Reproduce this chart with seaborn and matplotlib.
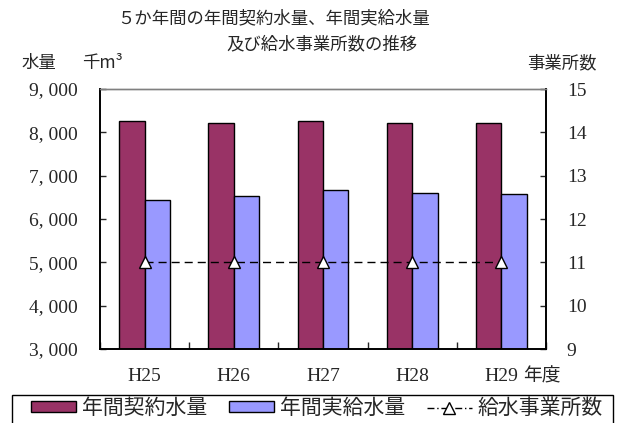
import matplotlib
matplotlib.use("Agg")
import matplotlib.pyplot as plt
import numpy as np
import pandas as pd
import seaborn as sns
from matplotlib.patches import Patch, Rectangle
from matplotlib.lines import Line2D

sns.set_style("ticks")
plt.rcParams['font.family'] = ['Noto Sans CJK JP', 'DejaVu Sans']

# data
years = ["H25", "H26", "H27", "H28", "H29"]
contract = [8260, 8220, 8260, 8220, 8220]   # 年間契約水量 (千m3)
supplied = [6440, 6540, 6670, 6610, 6570]   # 年間実給水量 (千m3)
offices = [11, 11, 11, 11, 11]              # 給水事業所数
left_ticks = [3000, 4000, 5000, 6000, 7000, 8000, 9000]
right_ticks = [9, 10, 11, 12, 13, 14, 15]

c_contract = "#993366"
c_supplied = "#9999FF"
serif = ['Liberation Serif', 'DejaVu Serif']

df = pd.DataFrame({
    "year": years * 2,
    "value": contract + supplied,
    "kind": ["年間契約水量"] * len(years) + ["年間実給水量"] * len(years),
})

fig = plt.figure(figsize=(6.18, 4.23), dpi=100)
ax = fig.add_axes([100 / 618, 1 - 349 / 423, 446 / 618, 260 / 423])

sns.barplot(data=df, x="year", y="value", hue="kind", ax=ax,
            palette=[c_contract, c_supplied], width=0.57, gap=0,
            edgecolor="black", linewidth=1.0, saturation=1, legend=False)

ax.set_ylim(left_ticks[0], left_ticks[-1])
ax.set_yticks(left_ticks)
ax.set_yticklabels(['{:,}'.format(v).replace(",", ", ") for v in left_ticks],
                   family=serif, fontsize=14)
ax.set_xlim(-0.5, len(years) - 0.5)
ax.set_xticks(np.arange(len(years) + 1) - 0.5)
ax.set_xticklabels([])
ax.set_xticks(np.arange(len(years)), minor=True)
ax.set_xticklabels(years, minor=True, family=serif, fontsize=14)
ax.tick_params(axis="x", which="major", direction="in", length=5, width=1)
ax.tick_params(axis="x", which="minor", length=0, pad=14)
ax.tick_params(axis="y", direction="in", length=4, width=1, pad=16)
ax.set_xlabel("")
ax.set_ylabel("")

ax2 = ax.twinx()
sns.lineplot(x=np.arange(len(years)), y=offices, ax=ax2, color="black",
             linestyle=(0, (5.8, 3.6)), linewidth=1.0, marker="^",
             markersize=9, markerfacecolor="white", markeredgecolor="black",
             markeredgewidth=1.0)
ax2.set_ylim(right_ticks[0], right_ticks[-1])
ax2.set_yticks(right_ticks)
ax2.set_yticklabels([str(v) for v in right_ticks], family=serif, fontsize=14)
ax2.tick_params(axis="y", direction="in", length=4, width=1, pad=15)

for a in (ax, ax2):
    for side in ("left", "right", "bottom"):
        a.spines[side].set_visible(True)
        a.spines[side].set_color("black")
        a.spines[side].set_linewidth(1.2)
    a.spines["top"].set_visible(True)
    a.spines["top"].set_color("#808080")
    a.spines["top"].set_linewidth(1.0)

fig.text(274 / 618, 1 - 18 / 423, "５か年間の年間契約水量、年間実給水量",
         ha="center", va="center", fontsize=12.5)
fig.text(322 / 618, 1 - 44 / 423, "及び給水事業所数の推移",
         ha="center", va="center", fontsize=12.5)
fig.text(22 / 618, 1 - 63 / 423, "水量", ha="left", va="center",
         fontsize=12.5)
fig.text(82 / 618, 1 - 63 / 423, "千m³", ha="left", va="center",
         fontsize=12.5)
fig.text(597 / 618, 1 - 63 / 423, "事業所数", ha="right", va="center",
         fontsize=12.5)
fig.text(523 / 618, 1 - 376 / 423, "年度", ha="left", va="center",
         fontsize=13.5)

handles = [
    Patch(facecolor=c_contract, edgecolor="black", linewidth=1.0),
    Patch(facecolor=c_supplied, edgecolor="black", linewidth=1.0),
    Line2D([0], [0], color="black", linestyle=(0, (5, 2, 1, 2)),
           linewidth=1.0, marker="^", markersize=9,
           markerfacecolor="white", markeredgecolor="black"),
]
labels = ["年間契約水量", "年間実給水量", "給水事業所数"]
leg = fig.legend(handles, labels, loc="upper left", ncol=3,
                 bbox_to_anchor=(31 / 618, -0.05, 572 / 618,
                                 1 - 397 / 423 + 0.05),
                 mode="expand", frameon=False,
                 fontsize=15, handlelength=2.15, handleheight=0.4,
                 handletextpad=0.3, borderpad=0, columnspacing=0.8,
                 borderaxespad=0)
# legend frame runs off the bottom edge like the reference
fig.add_artist(Rectangle((12 / 618, -0.02), 601 / 618, 1 - 395 / 423 + 0.02,
                         transform=fig.transFigure, fill=False,
                         edgecolor="black", linewidth=1.0))

fig.savefig("out.png", dpi=100)
